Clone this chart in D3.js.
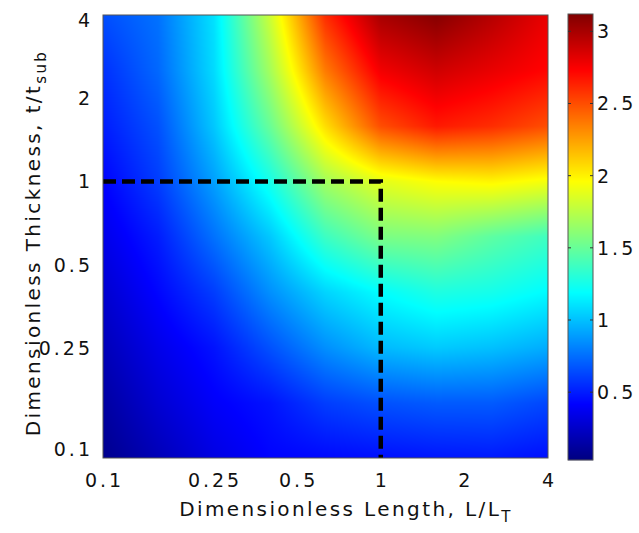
<!DOCTYPE html>
<html>
<head>
<meta charset="utf-8">
<script src="https://cdn.jsdelivr.net/npm/d3@7"></script>
<style>
  body { margin: 0; background: #fff; }
  text { font-family: "DejaVu Sans", Verdana, sans-serif; fill: #111; }
</style>
</head>
<body>
<script>
// grid positions (log spaced) and field values
var gridX = [0.1, 0.158, 0.251, 0.398, 0.631, 1, 1.585, 2.512, 3.981];
var gridY = [0.1, 0.158, 0.251, 0.398, 0.631, 1, 1.585, 2.512, 3.981];
// rows from bottom (t/tsub = 0.1) to top (t/tsub = 4)
var values = [
  [0.07, 0.20, 0.33, 0.42, 0.44, 0.46, 0.48, 0.49, 0.46],
  [0.13, 0.28, 0.40, 0.47, 0.60, 0.66, 0.69, 0.69, 0.63],
  [0.20, 0.35, 0.47, 0.66, 0.85, 0.98, 1.03, 1.00, 0.94],
  [0.27, 0.43, 0.60, 0.85, 1.06, 1.19, 1.28, 1.25, 1.18],
  [0.35, 0.50, 0.76, 1.02, 1.37, 1.56, 1.58, 1.47, 1.38],
  [0.42, 0.60, 0.90, 1.25, 1.68, 1.88, 1.96, 1.99, 1.93],
  [0.50, 0.66, 1.02, 1.50, 2.06, 2.50, 2.66, 2.60, 2.50],
  [0.56, 0.73, 1.08, 1.68, 2.36, 2.77, 2.88, 2.80, 2.72],
  [0.65, 0.76, 1.10, 1.80, 2.60, 3.00, 3.10, 2.96, 2.80]
];
var xTicks = [0.1, 0.25, 0.5, 1, 2, 4];
var yTicks = [0.1, 0.25, 0.5, 1, 2, 4];
var cbTicks = [0.5, 1, 1.5, 2, 2.5, 3];
var cbRange = [0.03, 3.12];
var boxX = [0.1, 1, 1];   // dashed guide
var boxY = [1, 1, 0.1];

var W = 639, H = 533;
var mLeft = 103, mTop = 15, pw = 445, ph = 443;

var svg = d3.select("body").append("svg")
    .attr("width", W)
    .attr("height", H);

var x = d3.scaleLog().domain([0.1, 4]).range([0, pw]);
var y = d3.scaleLog().domain([0.1, 4]).range([ph, 0]);

// jet colormap
var jetT = [0, 0.125, 0.375, 0.625, 0.875, 1];
var color = d3.scaleLinear()
    .domain(jetT.map(function(t){ return cbRange[0] + t * (cbRange[1] - cbRange[0]); }))
    .range(["#000080", "#0000ff", "#00ffff", "#ffff00", "#ff0000", "#800000"])
    .clamp(true);

// pixel -> fractional grid index
var gi = d3.scaleLog().domain(gridX).range(d3.range(gridX.length)).clamp(true);
var gj = d3.scaleLog().domain(gridY).range(d3.range(gridY.length)).clamp(true);

var g = svg.append("g").attr("transform", "translate(" + mLeft + "," + mTop + ")");

// heat map drawn on a canvas, placed as an image
var canvas = document.createElement("canvas");
canvas.width = pw; canvas.height = ph;
var ctx = canvas.getContext("2d");
var img = ctx.createImageData(pw, ph);
for (var py = 0; py < ph; py++) {
  var fj = gj(y.invert(py + 0.5));
  var j0 = Math.min(Math.floor(fj), gridY.length - 2), tj = fj - j0;
  for (var px = 0; px < pw; px++) {
    var fi = gi(x.invert(px + 0.5));
    var i0 = Math.min(Math.floor(fi), gridX.length - 2), ti = fi - i0;
    var v = (1 - tj) * ((1 - ti) * values[j0][i0] + ti * values[j0][i0 + 1]) +
            tj * ((1 - ti) * values[j0 + 1][i0] + ti * values[j0 + 1][i0 + 1]);
    var c = d3.rgb(color(v));
    var k = (py * pw + px) * 4;
    img.data[k] = c.r; img.data[k + 1] = c.g; img.data[k + 2] = c.b; img.data[k + 3] = 255;
  }
}
ctx.putImageData(img, 0, 0);
g.append("image")
    .attr("width", pw)
    .attr("height", ph)
    .attr("href", canvas.toDataURL());

// dashed guide
g.append("path")
    .datum(d3.range(boxX.length))
    .attr("d", d3.line().x(function(i){ return x(boxX[i]); }).y(function(i){ return y(boxY[i]); }))
    .attr("fill", "none")
    .attr("stroke", "#000")
    .attr("stroke-width", 4.5)
    .attr("stroke-dasharray", "13,6");

g.append("rect")
    .attr("width", pw).attr("height", ph)
    .attr("fill", "none").attr("stroke", "#555").attr("stroke-width", 1);

// tick labels
g.selectAll(".xt").data(xTicks).enter().append("text")
    .attr("x", function(d){ return x(d) + 1.5; })
    .attr("y", ph + 29)
    .attr("text-anchor", "middle")
    .style("font-size", "19px")
    .style("letter-spacing", "3px")
    .text(function(d){ return d; });

g.selectAll(".yt").data(yTicks).enter().append("text")
    .attr("x", -10)
    .attr("y", function(d, i){ return y(d) + (i == 0 ? -2 : (i == yTicks.length - 1 ? 12 : 7)); })
    .attr("text-anchor", "end")
    .style("font-size", "19px")
    .style("letter-spacing", "3px")
    .text(function(d){ return d; });

// axis titles
var xl = svg.append("text")
    .attr("x", 346).attr("y", 516)
    .attr("text-anchor", "middle")
    .style("font-size", "20px")
    .style("letter-spacing", "2.4px");
xl.append("tspan").text("Dimensionless Length, L/L");
xl.append("tspan").attr("dy", 6).style("font-size", "15px").text("T");

var yl = svg.append("text")
    .attr("transform", "translate(40,243) rotate(-90)")
    .attr("text-anchor", "middle")
    .style("font-size", "20px")
    .style("letter-spacing", "2.4px");
yl.append("tspan").text("Dimensionless Thickness, t/t");
yl.append("tspan").attr("dy", 6).style("font-size", "15px").text("sub");

// colorbar
var cbL = 568, cbW = 25, cbTop = 14, cbH = 446;
var cy = d3.scaleLinear().domain(cbRange).range([cbTop + cbH, cbTop]);
var cb = svg.append("g");
cb.selectAll("rect.s").data(d3.range(cbH)).enter().append("rect")
    .attr("x", cbL)
    .attr("y", function(d){ return cbTop + d; })
    .attr("width", cbW)
    .attr("height", 1.2)
    .attr("fill", function(d){ return color(cy.invert(cbTop + d + 0.5)); });
cb.append("rect")
    .attr("x", cbL).attr("y", cbTop).attr("width", cbW).attr("height", cbH)
    .attr("fill", "none").attr("stroke", "#555");
cb.selectAll("line.tl").data(cbTicks).enter().append("line")
    .attr("x1", cbL).attr("x2", cbL + 3)
    .attr("y1", function(d){ return cy(d); }).attr("y2", function(d){ return cy(d); })
    .attr("stroke", "#333");
cb.selectAll("line.tr").data(cbTicks).enter().append("line")
    .attr("x1", cbL + cbW - 3).attr("x2", cbL + cbW)
    .attr("y1", function(d){ return cy(d); }).attr("y2", function(d){ return cy(d); })
    .attr("stroke", "#333");
cb.selectAll("text").data(cbTicks).enter().append("text")
    .attr("x", cbL + cbW + 4)
    .attr("y", function(d){ return cy(d) + 7; })
    .style("font-size", "19px")
    .style("letter-spacing", "3px")
    .text(function(d){ return d; });
</script>
</body>
</html>
